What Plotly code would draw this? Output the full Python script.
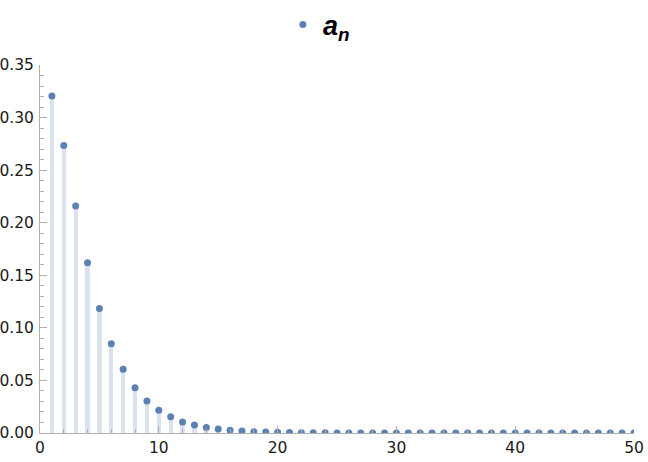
import plotly.graph_objects as go

n_values = list(range(1, 51))
a_values = [
    0.3206, 0.2734, 0.2160, 0.1620, 0.1183, 0.0850, 0.0606, 0.0431, 0.0304, 0.0216,
    0.0155, 0.0105, 0.0076, 0.0052, 0.0037, 0.0026, 0.0018, 0.0013, 0.0009, 0.0006,
    0.0004, 0.0003, 0.0002, 0.00015, 0.0001, 0.00007, 0.00005, 0.00004, 0.00003, 0.00002,
    0.00001, 0.00001, 0.00001, 0.00001, 0.0, 0.0, 0.0, 0.0, 0.0, 0.0,
    0.0, 0.0, 0.0, 0.0, 0.0, 0.0, 0.0, 0.0, 0.0, 0.0,
]
series_name = "<b><i>a</i><sub><i>n</i></sub></b>"
x_ticks = [0, 10, 20, 30, 40, 50]
y_ticks = [0.0, 0.05, 0.10, 0.15, 0.20, 0.25, 0.30, 0.35]

dot_color = "#5e81b5"
stem_color = "#dae2ee"
axis_color = "#b0b0b0"

fig = go.Figure()
fig.add_trace(go.Bar(
    x=n_values, y=a_values, width=0.36,
    marker=dict(color=stem_color, line=dict(width=0)),
    showlegend=False, hoverinfo="skip",
))
fig.add_trace(go.Scatter(
    x=n_values, y=a_values, mode="markers", name=series_name,
    marker=dict(color=dot_color, size=7),
    cliponaxis=True,
))

fig.update_layout(
    width=648, height=462,
    margin=dict(l=40, r=14, t=65, b=29, autoexpand=False),
    paper_bgcolor="white", plot_bgcolor="white",
    font=dict(family="DejaVu Sans, Liberation Sans, Arial, sans-serif", size=15.5, color="#1a1a1a"),
    bargap=0,
    legend=dict(
        orientation="h", xref="paper", x=0.4695, xanchor="center",
        yref="paper", y=1.109, yanchor="middle",
        font=dict(family="Liberation Sans, Arial, sans-serif", size=27, color="black"),
        itemsizing="trace",
    ),
    showlegend=True,
)

fig.update_xaxes(
    range=[0, 50], tickvals=x_ticks, ticktext=[str(v) for v in x_ticks],
    showgrid=False, zeroline=False, showline=True, linecolor=axis_color, linewidth=1,
    ticks="inside", ticklen=7, tickcolor=axis_color,
    minor=dict(ticks="inside", ticklen=4, dtick=2, tickcolor=axis_color, showgrid=False),
)
fig.update_yaxes(
    range=[0, 0.35], tickvals=y_ticks, ticktext=["%.2f" % v for v in y_ticks],
    showgrid=False, zeroline=False, showline=True, linecolor=axis_color, linewidth=1,
    ticks="inside", ticklen=7, tickcolor=axis_color, ticklabelstandoff=2,
    minor=dict(ticks="inside", ticklen=4, dtick=0.01, tickcolor=axis_color, showgrid=False),
)

fig.write_html(
    "out.html",
    config={"displayModeBar": False},
    post_script="document.body.style.margin='0';document.body.style.padding='0';",
)
